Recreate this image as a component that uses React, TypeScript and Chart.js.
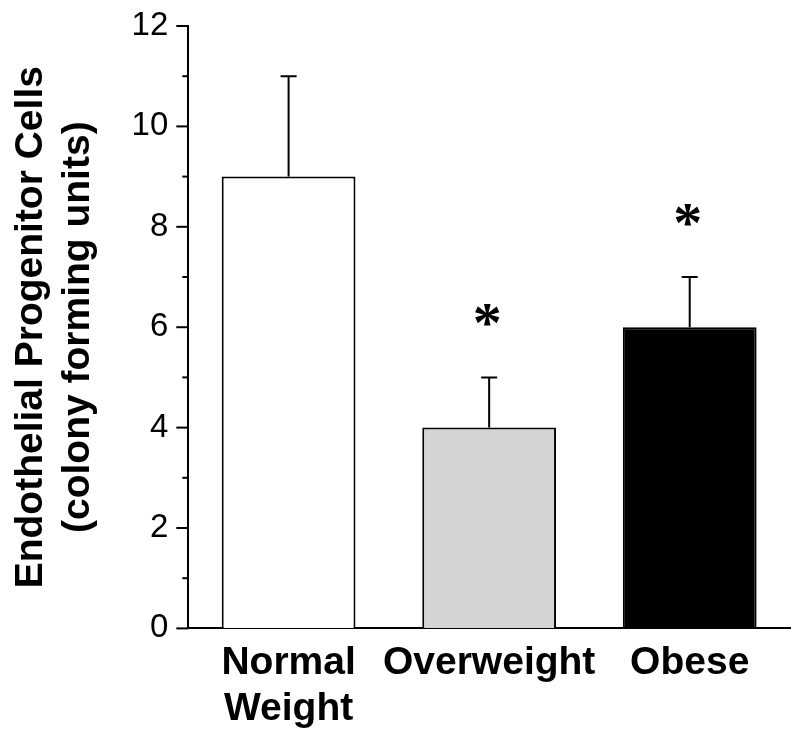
import React, { useEffect, useRef } from "react";
import { Chart, registerables } from "chart.js";

Chart.register(...registerables);

const categories: (string | string[])[] = [["Normal", "Weight"], "Overweight", "Obese"];
const means = [9, 4, 6];
const errors = [2, 1, 1];
const significant = [false, true, true];
const barColors = ["#ffffff", "#d4d4d4", "#000000"];
const yTicks = [0, 2, 4, 6, 8, 10, 12];
const yMinorTicks = [1, 3, 5, 7, 9, 11];
const yTitle = ["Endothelial Progenitor Cells", "(colony forming units)"];

const FONT = "'Liberation Sans', Arial, Helvetica, sans-serif";
const STAR_FONT = "'Liberation Serif', 'Times New Roman', serif";

const decorPlugin = {
  id: "decor",
  afterDatasetsDraw(chart: any) {
    const ctx = chart.ctx;
    const y = chart.scales.y;
    const meta = chart.getDatasetMeta(0);
    ctx.save();
    ctx.strokeStyle = "#000";
    ctx.fillStyle = "#000";
    ctx.lineWidth = 2;
    // error bars (upper only)
    meta.data.forEach((bar: any, i: number) => {
      const x = bar.x;
      const yb = y.getPixelForValue(means[i]);
      const yt = y.getPixelForValue(means[i] + errors[i]);
      ctx.beginPath();
      ctx.moveTo(x, yb);
      ctx.lineTo(x, yt);
      ctx.moveTo(x - 8, yt);
      ctx.lineTo(x + 8, yt);
      ctx.stroke();
      if (significant[i]) {
        ctx.font = `bold 58px ${STAR_FONT}`;
        ctx.textAlign = "center";
        ctx.textBaseline = "alphabetic";
        const m = ctx.measureText("*");
        const cy = yt - 62;
        const off = (m.actualBoundingBoxAscent - m.actualBoundingBoxDescent) / 2;
        ctx.fillText("*", x - 2, cy + off);
      }
    });
    // y axis tick marks (major and minor)
    const left = chart.chartArea.left;
    yTicks.forEach((v) => {
      const py = y.getPixelForValue(v);
      ctx.beginPath();
      ctx.moveTo(left - 12, py);
      ctx.lineTo(left, py);
      ctx.stroke();
    });
    yMinorTicks.forEach((v) => {
      const py = y.getPixelForValue(v);
      ctx.beginPath();
      ctx.moveTo(left - 6, py);
      ctx.lineTo(left, py);
      ctx.stroke();
    });
    ctx.restore();
  },
};

export default function App() {
  const ref = useRef<HTMLCanvasElement | null>(null);
  useEffect(() => {
    if (!ref.current) return;
    const chart = new Chart(ref.current, {
      type: "bar",
      data: {
        labels: categories as any,
        datasets: [
          {
            data: means,
            backgroundColor: barColors,
            borderColor: "#000",
            borderWidth: 2,
            categoryPercentage: 0.667,
            barPercentage: 1,
          },
        ],
      },
      options: {
        animation: false,
        responsive: true,
        maintainAspectRatio: false,
        layout: { padding: { left: 0, right: 10, top: 26, bottom: 6 } },
        plugins: { legend: { display: false }, tooltip: { enabled: false } },
        scales: {
          x: {
            offset: true,
            grid: {
              display: true,
              drawOnChartArea: false,
              drawTicks: true,
              tickLength: 11,
              color: "rgba(0,0,0,0)",
              tickColor: "rgba(0,0,0,0)",
            },
            border: { display: true, color: "#000", width: 2 },
            ticks: {
              color: "#000",
              padding: 0,
              maxRotation: 0,
              autoSkip: false,
              font: { family: FONT, size: 39, weight: "bold" },
            },
          },
          y: {
            min: 0,
            max: 12,
            grid: {
              display: true,
              drawOnChartArea: false,
              drawTicks: true,
              tickLength: 20,
              color: "rgba(0,0,0,0)",
              tickColor: "rgba(0,0,0,0)",
            },
            border: { display: true, color: "#000", width: 2 },
            ticks: {
              stepSize: 2,
              color: "#000",
              padding: 0,
              font: { family: FONT, size: 33 },
            },
            title: {
              display: true,
              text: yTitle,
              color: "#000",
              padding: { top: 8, bottom: 30 },
              font: { family: FONT, size: 39, weight: "bold" },
            },
          },
        },
      },
      plugins: [decorPlugin],
    });
    return () => chart.destroy();
  }, []);
  return (
    <div style={{ position: "fixed", left: 0, top: 0, width: 800, height: 739, background: "#fff" }}>
      <canvas ref={ref} />
    </div>
  );
}
